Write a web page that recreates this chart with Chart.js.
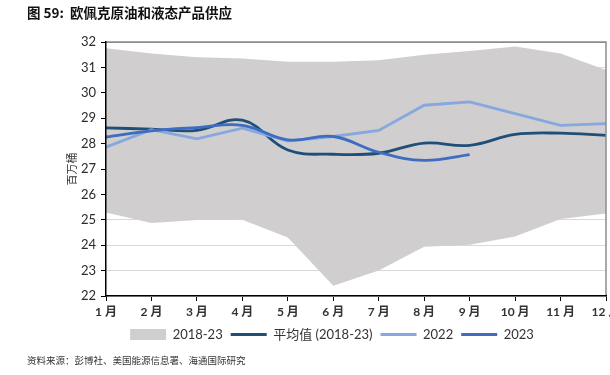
<!DOCTYPE html>
<html>
<head>
<meta charset="utf-8">
<script src="https://cdn.jsdelivr.net/npm/chart.js@4/dist/chart.umd.min.js"></script>
<style>
  html, body { margin: 0; padding: 0; background: #fff; }
  #wrap { position: relative; width: 610px; height: 375px; overflow: hidden; }
  #c { position: absolute; left: 0; top: 0; }
  #title { position: absolute; left: 27px; top: 2px; font: bold 13.5px "Noto Sans CJK SC", sans-serif; color: #111; white-space: pre; }
  #source { position: absolute; left: 27px; top: 353px; font: 9.5px "Noto Sans CJK SC", sans-serif; color: #333; white-space: nowrap; }
</style>
</head>
<body>
<div id="wrap">
  <canvas id="c" width="610" height="375"></canvas>
  <div id="title">图 59:  欧佩克原油和液态产品供应</div>
  <div id="source">资料来源：彭博社、美国能源信息署、海通国际研究</div>
</div>
<script>
const months = ['1 月','2 月','3 月','4 月','5 月','6 月','7 月','8 月','9 月','10 月','11 月','12 月'];
const rangeMax = [31.75, 31.55, 31.40, 31.35, 31.22, 31.22, 31.28, 31.50, 31.65, 31.82, 31.55, 30.90];
const rangeMin = [25.29, 24.87, 24.99, 25.00, 24.30, 22.40, 23.00, 23.94, 24.02, 24.34, 25.03, 25.25];
const avg1823 = [28.62, 28.57, 28.52, 28.92, 27.75, 27.58, 27.62, 28.02, 27.93, 28.36, 28.41, 28.32];
const y2022 = [27.86, 28.55, 28.19, 28.61, 28.10, 28.28, 28.52, 29.51, 29.64, 29.18, 28.72, 28.79];
const y2023 = [28.26, 28.50, 28.63, 28.72, 28.15, 28.28, 27.66, 27.34, 27.57];
const yTicks = [22, 23, 24, 25, 26, 27, 28, 29, 30, 31, 32];

const cGray = '#D0CECE', cAvg = '#1F4E79', c22 = '#86A8DF', c23 = '#3E6CC0';
const fontStack = 'Lato, "Noto Sans CJK SC", sans-serif';

const borderPlugin = {
  id: 'areaBorder',
  afterDatasetsDraw(chart) {
    const {ctx, chartArea: a} = chart;
    ctx.save();
    ctx.strokeStyle = '#8c8c8c';
    ctx.lineWidth = 1.5;
    ctx.beginPath();
    ctx.moveTo(a.left, a.top);
    ctx.lineTo(a.right, a.top);
    ctx.lineTo(a.right, a.bottom);
    ctx.stroke();
    ctx.restore();
  }
};

new Chart(document.getElementById('c'), {
  type: 'line',
  data: {
    labels: months,
    datasets: [
      { label: '2018-23 max', data: rangeMax, borderWidth: 0, pointRadius: 0, tension: 0,
        backgroundColor: cGray, fill: '+1', order: 10 },
      { label: '2018-23 min', data: rangeMin, borderWidth: 0, pointRadius: 0, tension: 0,
        backgroundColor: cGray, fill: false, order: 11 },
      { label: '平均值 (2018-23)', data: avg1823, borderColor: cAvg, borderWidth: 2.8, pointRadius: 0,
        tension: 0.4, fill: false, order: 3 },
      { label: '2022', data: y2022, borderColor: c22, borderWidth: 2.8, pointRadius: 0,
        tension: 0, fill: false, order: 2 },
      { label: '2023', data: y2023, borderColor: c23, borderWidth: 2.8, pointRadius: 0,
        tension: 0.4, fill: false, order: 1 }
    ]
  },
  options: {
    responsive: false,
    animation: false,
    layout: { padding: { left: 58, right: 4, top: 42, bottom: 24 } },
    plugins: {
      tooltip: { enabled: false },
      legend: {
        position: 'bottom',
        labels: {
          usePointStyle: true,
          pointStyleWidth: 36,
          boxHeight: 11,
          padding: 8,
          color: '#333',
          font: { family: fontStack, size: 13 },
          generateLabels() {
            return [
              { text: '2018-23', fillStyle: cGray, strokeStyle: cGray, lineWidth: 0, pointStyle: 'rect', datasetIndex: 0, fontColor: '#333' },
              { text: '平均值 (2018-23)', fillStyle: cAvg, strokeStyle: cAvg, lineWidth: 3, pointStyle: 'line', datasetIndex: 2, fontColor: '#333' },
              { text: '2022', fillStyle: c22, strokeStyle: c22, lineWidth: 3, pointStyle: 'line', datasetIndex: 3, fontColor: '#333' },
              { text: '2023', fillStyle: c23, strokeStyle: c23, lineWidth: 3, pointStyle: 'line', datasetIndex: 4, fontColor: '#333' }
            ];
          }
        }
      }
    },
    scales: {
      x: {
        offset: false,
        afterFit(s) { s.paddingLeft = 0; s.paddingRight = 0; s.height = 24; },
        grid: { drawOnChartArea: false, tickColor: '#000', tickLength: 5 },
        border: { color: '#000', width: 1.5, z: 1 },
        ticks: { color: '#333', font: { family: fontStack, size: 12, weight: 'bold' }, padding: 4, maxRotation: 0, autoSkip: false }
      },
      y: {
        min: 22, max: 32,
        afterBuildTicks(s) { s.ticks = yTicks.map(v => ({ value: v })); },
        afterFit(s) { s.width = 48; },
        grid: { color: (c) => c.tick && c.tick.value === 32 ? '#8c8c8c' : '#d9d9d9', tickColor: '#000', tickLength: 5 },
        border: { color: '#000', width: 1.5, z: 1 },
        ticks: { color: '#2a2a2a', font: { family: fontStack, size: 13 }, padding: 5 },
        title: { display: true, text: '百万桶', color: '#333', font: { family: '"Noto Sans CJK SC", sans-serif', size: 11 }, padding: { top: 7, bottom: 0 } }
      }
    }
  },
  plugins: [borderPlugin]
});
</script>
</body>
</html>
